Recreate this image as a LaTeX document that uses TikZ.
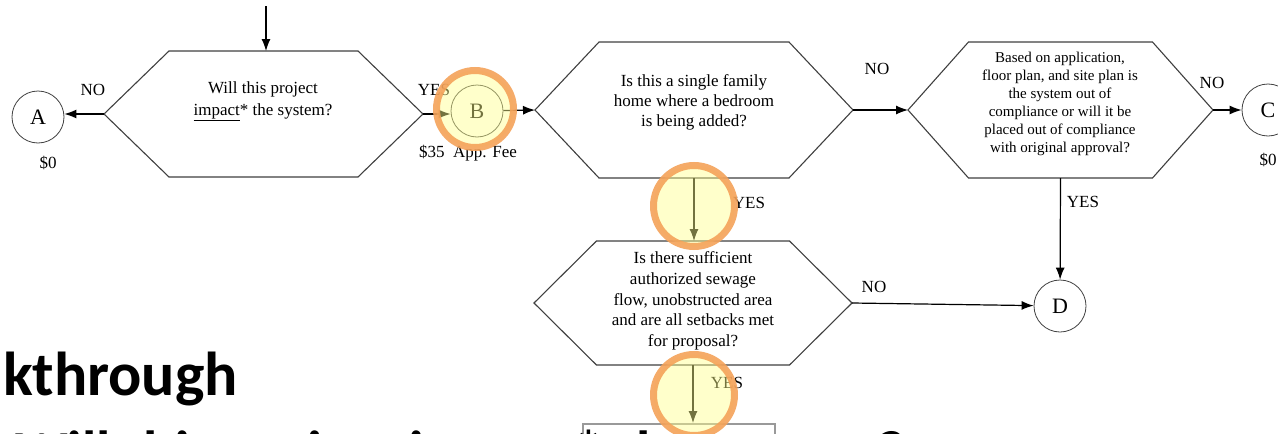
\documentclass[tikz,border=0pt]{standalone}
\usepackage{fontspec}
\setmainfont{Liberation Serif}
\newfontfamily\slidefont{Carlito}
\usetikzlibrary{arrows.meta}

\begin{document}
\begin{tikzpicture}[x=1pt,y=-1pt,font=\fontsize{17}{20}\selectfont]
  \definecolor{ringorange}{HTML}{F4A259}
  \definecolor{ringyellow}{HTML}{FFFF8C}
  \tikzset{
    flow/.style={-{Latex[length=12pt,width=9pt]},line width=1.2pt},
    hexline/.style={draw=black!75,line width=1.1pt,fill=white},
    endpt/.style={circle,draw=black!75,line width=0.8pt,minimum size=52pt,
      inner sep=0pt,font=\fontsize{22}{22}\selectfont},
    answer/.style={inner sep=0pt},
    question/.style={align=center,inner sep=0pt},
    hilite/.style={circle,draw=ringorange,line width=7pt,fill=ringyellow,
      fill opacity=0.45,draw opacity=0.9,inner sep=0pt},
    pics/hexq/.style n args={3}{code={
      \draw[hexline] (-#1,0) coordinate (-w) -- (-#2,-#3) -- (#2,-#3)
        -- (#1,0) coordinate (-e) -- (#2,#3) -- (-#2,#3) -- cycle;
      \coordinate (-n) at (0,-#3);
      \coordinate (-s) at (0,#3);
    }}
  }
  \useasboundingbox (0,0) rectangle (1278,434);
  \clip (0,0) rectangle (1278,434);

  % decision boxes
  \pic (h1) at (263.5,114) {hexq={159.5}{94.5}{63}};
  \pic (h2) at (694,110) {hexq={159}{95}{68}};
  \pic (h3) at (1060.5,110) {hexq={152.5}{92}{68}};
  \pic (h4) at (693,303) {hexq={159}{96.5}{62}};

  \node[question,font=\fontsize{17}{22}\selectfont] (q1) at (263,101)
    {Will this project\\\underline{impact}* the system?};
  \node[question] (q2) at (694,102)
    {Is this a single family\\home where a bedroom\\is being added?};
  \node[question,font=\fontsize{15}{18}\selectfont] (q3) at (1060,104)
    {Based on application,\\floor plan, and site plan is\\the system out of\\
     compliance or will it be\\placed out of compliance\\with original approval?};
  \node[question,font=\fontsize{17}{20.7}\selectfont] (q4) at (693,301)
    {Is there sufficient\\authorized sewage\\flow, unobstructed area\\
     and are all setbacks met\\for proposal?};

  % end points
  \node[endpt] (A) at (38,117) {A};
  \node[endpt] (B) at (477,111) {B};
  \node[endpt] (C) at (1268,110) {C};
  \node[endpt] (D) at (1060,306) {D};
  \node[draw=black!40,line width=2pt,minimum width=192pt,minimum height=60pt,
    anchor=north] (nextbox) at (679,423) {};

  \node[answer] (feeA) at (48,163) {\$0};
  \node[answer] (feeB) at (468,153) {\$35~ App. Fee};
  \node[answer] (feeC) at (1268,160) {\$0};

  % branch labels
  \node[answer] (noA) at (93,90) {NO};
  \node[answer] (yesB) at (434,90) {YES};
  \node[answer] (noB) at (877,69) {NO};
  \node[answer] (noC) at (1212,83) {NO};
  \node[answer] (yesS) at (749,203) {YES};
  \node[answer] (yesD) at (1083,202) {YES};
  \node[answer] (noD) at (874,287) {NO};
  \node[answer] (yesN) at (727,383) {YES};

  % connectors
  \coordinate (entry) at (266,6);
  \draw[flow] (entry) -- (entry |- h1-n);
  \draw[flow] (h1-w) -- (h1-w -| A.east);
  \draw[flow] (h1-e) -- (h1-e -| B.west);
  \draw[flow] (B) -- (h2-w);
  \draw[flow] (h2-e) -- (h3-w);
  \draw[flow] (h3-e) -- (C);
  \draw[flow] (h3-s) -- (D);
  \draw[flow] (h2-s) -- (h2-s |- h4-n);
  \draw[flow] (h4-e) -- (D);
  \draw[flow] (h4-s) -- (h4-s |- nextbox.north);

  % highlight rings
  \node[hilite,minimum size=77pt] (ringB) at (475,109) {};
  \node[hilite,minimum size=81pt] (ringS) at (694,206) {};
  \node[hilite,minimum size=81pt] (ringN) at (694,395) {};

  % slide text
  \node[font=\slidefont\bfseries\fontsize{62}{62}\selectfont,anchor=base east,
    inner sep=0pt] (title) at (238,395) {Walkthrough};
  \node[font=\slidefont\bfseries\fontsize{58}{58}\selectfont,anchor=base east,
    inner sep=0pt] (subline) at (905,471) {Will this project impact* the system?};
\end{tikzpicture}
\end{document}
